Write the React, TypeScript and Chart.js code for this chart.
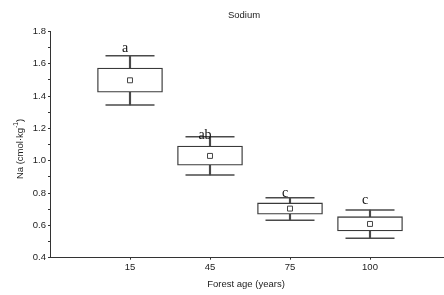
import React, { useEffect, useRef } from 'react';
import { Chart, registerables } from 'chart.js';

Chart.register(...registerables);

const chartTitle = 'Sodium';
const xTitle = 'Forest age (years)';
const categories = ['15', '45', '75', '100'];
const whiskerLow = [1.345, 0.912, 0.632, 0.52];
const boxLow = [1.424, 0.972, 0.669, 0.565];
const means = [1.498, 1.03, 0.704, 0.609];
const boxHigh = [1.574, 1.091, 0.739, 0.654];
const whiskerHigh = [1.65, 1.149, 0.771, 0.695];
const letters = ['a', 'ab', 'c', 'c'];
const letterY = [1.673, 1.135, 0.778, 0.733];
const yMin = 0.4;
const yMax = 1.8;

const SANS = '"Liberation Sans", Arial, sans-serif';
const SERIF = '"Liberation Serif", "Times New Roman", serif';

export default function App() {
  const ref = useRef<HTMLCanvasElement>(null);

  useEffect(() => {
    document.body.style.margin = '0';
    const canvas = ref.current!;
    const xs = categories.map((_, i) => i + 1);

    const textPlugin = {
      id: 'texts',
      afterDraw(chart: any) {
        const ctx = chart.ctx as CanvasRenderingContext2D;
        const xS = chart.scales.x;
        const yS = chart.scales.y;
        ctx.save();
        // significance letters
        ctx.fillStyle = '#111';
        ctx.font = `14px ${SERIF}`;
        ctx.textAlign = 'center';
        ctx.textBaseline = 'alphabetic';
        letters.forEach((l, i) => {
          ctx.fillText(l, xS.getPixelForValue(xs[i]) - 5, yS.getPixelForValue(letterY[i]));
        });
        // chart title and x title
        ctx.fillStyle = '#222';
        ctx.font = `9.5px ${SANS}`;
        ctx.textBaseline = 'middle';
        ctx.fillText(chartTitle, 244, 15);
        ctx.fillText(xTitle, 246, 284);
        // y title with superscript
        ctx.translate(20, 149);
        ctx.rotate(-Math.PI / 2);
        const main = 'Na (cmol\u00b7kg';
        const sup = '-1';
        const end = ')';
        ctx.font = `9.5px ${SANS}`;
        const wMain = ctx.measureText(main).width;
        const wEnd = ctx.measureText(end).width;
        ctx.font = `6.5px ${SANS}`;
        const wSup = ctx.measureText(sup).width;
        const total = wMain + wSup + wEnd;
        let x0 = -total / 2;
        ctx.textAlign = 'left';
        ctx.font = `9.5px ${SANS}`;
        ctx.fillText(main, x0, 0);
        x0 += wMain;
        ctx.font = `6.5px ${SANS}`;
        ctx.fillText(sup, x0, -3.5);
        x0 += wSup;
        ctx.font = `9.5px ${SANS}`;
        ctx.fillText(end, x0, 0);
        ctx.restore();
      },
    };

    const chart = new Chart(canvas, {
      type: 'bar',
      data: {
        datasets: [
          {
            type: 'bar',
            data: xs.map((x, i) => ({ x, y: [whiskerLow[i], whiskerHigh[i]] })) as any,
            backgroundColor: '#4a4a4a',
            borderWidth: 0,
            barThickness: 1.5,
            grouped: false,
            order: 3,
          } as any,
          {
            type: 'bar',
            data: xs.map((x, i) => ({ x, y: [boxLow[i], boxHigh[i]] })) as any,
            backgroundColor: '#ffffff',
            borderColor: '#3a3a3a',
            borderWidth: 1.3,
            borderSkipped: false,
            barThickness: 65,
            grouped: false,
            order: 2,
          } as any,
          {
            type: 'scatter',
            data: [
              ...xs.map((x, i) => ({ x, y: whiskerHigh[i] })),
              ...xs.map((x, i) => ({ x, y: whiskerLow[i] })),
            ],
            pointStyle: 'line',
            pointRadius: 24.5,
            borderColor: '#4a4a4a',
            borderWidth: 1.5,
            order: 1,
          } as any,
          {
            type: 'scatter',
            data: xs.map((x, i) => ({ x, y: means[i] })),
            pointStyle: 'rect',
            pointRadius: 3.5,
            backgroundColor: '#ffffff',
            borderColor: '#444',
            borderWidth: 1,
            order: 0,
          } as any,
        ],
      },
      options: {
        animation: false,
        responsive: false,
        devicePixelRatio: 1,
        layout: { padding: { top: 31.5, left: 0, right: 0, bottom: 0 }, autoPadding: false },
        plugins: {
          legend: { display: false },
          tooltip: { enabled: false },
          title: { display: false },
        },
        scales: {
          x: {
            type: 'linear',
            min: 0,
            max: 4.925,
            offset: false,
            grid: { display: true, drawOnChartArea: false, drawTicks: true, tickLength: 2, color: '#333', offset: false },
            border: { display: true, color: '#333', width: 1 },
            afterBuildTicks: (s: any) => {
              s.ticks = xs.map((v) => ({ value: v }));
            },
            afterFit: (s: any) => {
              s.height = 37.3;
            },
            ticks: {
              autoSkip: false,
              maxRotation: 0,
              padding: 2,
              color: '#222',
              font: { family: SANS, size: 9.5 },
              callback: (_v: any, i: number) => categories[i],
            },
          } as any,
          y: {
            type: 'linear',
            min: yMin,
            max: yMax,
            grid: { display: true, drawOnChartArea: false, drawTicks: true, tickLength: 2, color: '#333' },
            border: { display: true, color: '#333', width: 1 },
            afterFit: (s: any) => {
              s.width = 50;
            },
            ticks: {
              stepSize: 0.1,
              autoSkip: false,
              padding: 2,
              color: '#222',
              font: { family: SANS, size: 9.5 },
              callback: (v: any) => (Math.round(Number(v) * 10) % 2 === 0 ? Number(v).toFixed(1) : ''),
            },
          } as any,
        },
      },
      plugins: [textPlugin],
    });

    return () => chart.destroy();
  }, []);

  return <canvas ref={ref} width={444} height={295} style={{ display: 'block', width: 444, height: 295 }} />;
}
